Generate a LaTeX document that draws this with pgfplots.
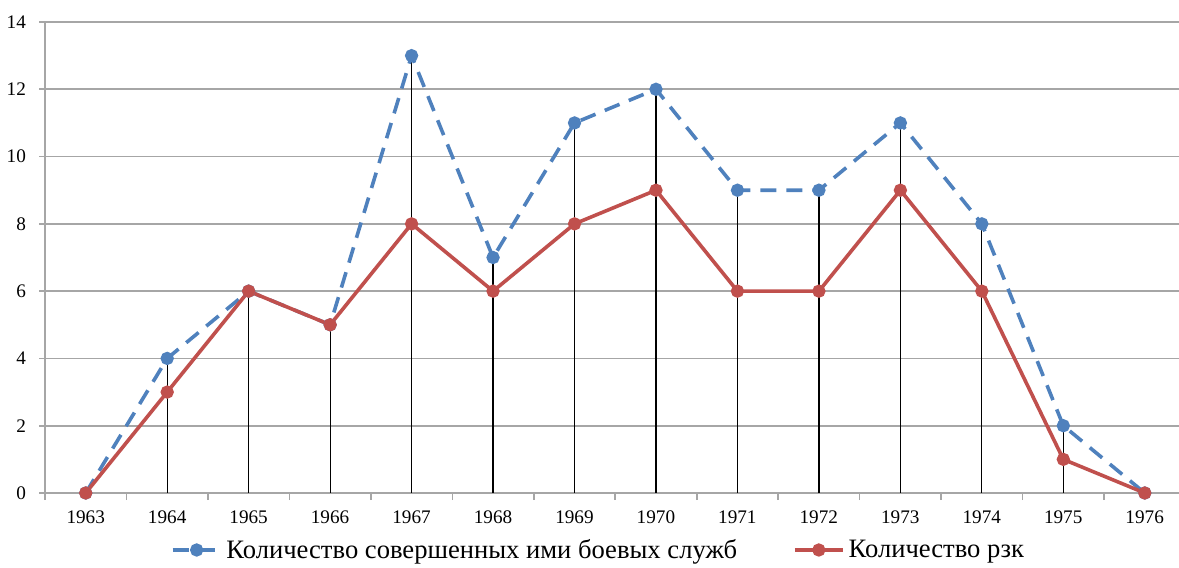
\documentclass[border=0pt]{standalone}
\usepackage{fontspec}
\setmainfont{LiberationSerif}[Extension=.ttf, UprightFont=*-Regular, BoldFont=*-Bold]
\usepackage{pgfplots}
\pgfplotsset{compat=1.18}
\definecolor{xlblue}{HTML}{4F81BD}
\definecolor{xlred}{HTML}{C0504D}
\definecolor{gridgray}{HTML}{A6A6A6}
\begin{document}
\begin{tikzpicture}
\useasboundingbox (-22.5pt,-37.5pt) rectangle (567pt,246.5pt);
\begin{axis}[
  scale only axis,
  width=567pt, height=235.5pt,
  xmin=1962.5, xmax=1976.42,
  ymin=0, ymax=14,
  axis x line*=bottom,
  axis y line*=left,
  axis line style={gridgray, line width=0.8pt},
  xtick={1963,...,1976},
  minor xtick={1962.5,1963.5,...,1975.5},
  ytick={0,2,...,14},
  ymajorgrids,
  grid style={gridgray, line width=0.8pt},
  major x tick style={draw=none},
  minor x tick style={gridgray, line width=0.8pt},
  major y tick style={gridgray, line width=0.8pt},
  tick align=outside,
  major tick length=3pt,
  minor tick length=3.5pt,
  xticklabel style={font=\fontsize{9.6}{11}\selectfont, yshift=-2.5pt},
  yticklabel style={font=\fontsize{9.6}{11}\selectfont, xshift=-3pt},
  /pgf/number format/assume math mode=true,
  xticklabel={\pgfmathprintnumber[1000 sep={}]{\tick}},
  legend style={at={(0.489,-0.121)}, anchor=center, draw=none, legend columns=2,
    font=\fontsize{13.3}{15}\selectfont,
    nodes={inner xsep=2pt},
    /tikz/every even column/.append style={column sep=26pt}},
  legend image code/.code={
    \draw[#1, mark repeat=2, mark phase=2] plot coordinates {(0pt,0pt) (12pt,0pt) (24pt,0pt)};
  },
  clip=false,
]
% drop lines
\addplot[black, line width=0.6pt, ycomb, forget plot] coordinates {
(1964,4) (1965,6) (1966,5) (1967,13) (1968,7) (1969,11) (1970,12) (1971,9) (1972,9) (1973,11) (1974,8) (1975,2)
};
\addplot[xlblue, line width=1.8pt, dash pattern=on 8pt off 5pt, mark=*, mark size=2.4pt, mark options={solid}] coordinates {
(1963,0) (1964,4) (1965,6) (1966,5) (1967,13) (1968,7) (1969,11) (1970,12) (1971,9) (1972,9) (1973,11) (1974,8) (1975,2) (1976,0)
};
\addlegendentry{Количество совершенных ими боевых служб}
\addplot[xlred, line width=1.8pt, mark=*, mark size=2.4pt] coordinates {
(1963,0) (1964,3) (1965,6) (1966,5) (1967,8) (1968,6) (1969,8) (1970,9) (1971,6) (1972,6) (1973,9) (1974,6) (1975,1) (1976,0)
};
\addlegendentry{Количество рзк}
\end{axis}
\end{tikzpicture}
\end{document}
